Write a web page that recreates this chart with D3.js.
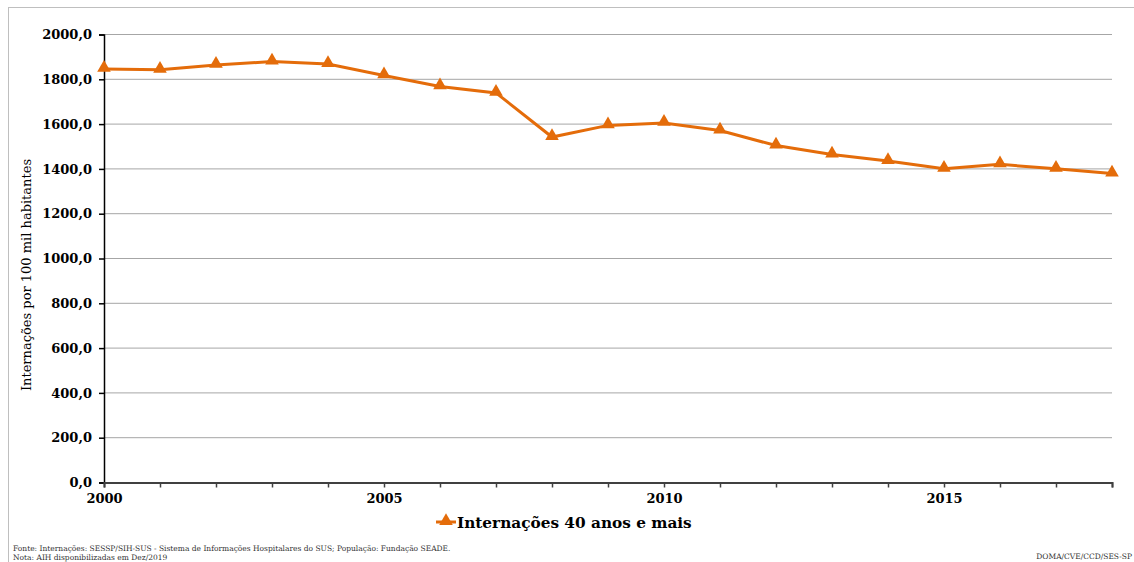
<!DOCTYPE html>
<html>
<head>
<meta charset="utf-8">
<script src="https://cdn.jsdelivr.net/npm/d3@7"></script>
<style>
  body { margin: 0; background: #fff; }
  svg { font-family: "DejaVu Serif", "Liberation Serif", serif; }
</style>
</head>
<body>
<div id="chart"></div>
<script>
// Data
const years = [2000, 2001, 2002, 2003, 2004, 2005, 2006, 2007, 2008, 2009,
  2010, 2011, 2012, 2013, 2014, 2015, 2016, 2017, 2018];
const rates = [1844, 1840, 1862, 1877, 1866, 1815, 1766, 1737, 1540, 1592,
  1603, 1569, 1502, 1462, 1433, 1398, 1418, 1398, 1377];
const yTicks = [0, 200, 400, 600, 800, 1000, 1200, 1400, 1600, 1800, 2000];
const xLabelYears = [2000, 2005, 2010, 2015];
const seriesName = "Internações 40 anos e mais";

const width = 1134;
const height = 562;
const margin = {top: 34, right: 22, bottom: 80, left: 104};
const orange = "#e46c0a";

const svg = d3.select("#chart")
  .append("svg")
  .attr("width", width)
  .attr("height", height);

// outer frame
svg.append("rect")
  .attr("x", 8.5).attr("y", 7.5)
  .attr("width", width - 8).attr("height", height - 4)
  .attr("fill", "none")
  .attr("stroke", "#bfbfbf");

const x = d3.scaleLinear()
  .domain([2000, 2018])
  .range([margin.left, width - margin.right]);

const y = d3.scaleLinear()
  .domain([0, 2000])
  .range([height - margin.bottom, margin.top]);

// gridlines
svg.append("g")
  .selectAll("line")
  .data(yTicks.filter(d => d > 0))
  .enter()
  .append("line")
  .attr("x1", x(2000)).attr("x2", x(2018))
  .attr("y1", d => y(d) + 0.5).attr("y2", d => y(d) + 0.5)
  .attr("stroke", "#a6a6a6")
  .attr("stroke-width", 1);

// Y axis
const yAxis = svg.append("g")
  .attr("transform", `translate(${x(2000)},0.5)`)
  .call(d3.axisLeft(y).tickValues(yTicks).tickSize(5).tickPadding(7)
    .tickFormat(d => d3.format(".1f")(d).replace(".", ",")));
yAxis.select(".domain").attr("stroke", "#000").attr("stroke-width", 1.5);
yAxis.selectAll(".tick line").attr("stroke", "#000").attr("stroke-width", 1.5);
yAxis.selectAll("text")
  .attr("font-size", 13).attr("font-weight", "bold")
  .attr("fill", "#000")
  .attr("font-family", "DejaVu Serif");

// X axis
const xAxis = svg.append("g")
  .attr("transform", `translate(0,${y(0) + 0.5})`)
  .call(d3.axisBottom(x).tickValues(years).tickSize(5).tickPadding(6)
    .tickFormat(d => xLabelYears.includes(d) ? d : ""));
xAxis.select(".domain").attr("stroke", "#404040").attr("stroke-width", 2);
xAxis.selectAll(".tick line").attr("stroke", "#404040").attr("stroke-width", 1.5);
xAxis.selectAll("text")
  .attr("font-size", 13).attr("font-weight", "bold")
  .attr("fill", "#000")
  .attr("font-family", "DejaVu Serif");

// Y title
svg.append("text")
  .attr("transform", "translate(31,275) rotate(-90)")
  .attr("text-anchor", "middle")
  .attr("font-size", 13)
  .text("Internações por 100 mil habitantes");

// Line
const line = d3.line()
  .x((d, i) => x(years[i]))
  .y(d => y(d));

svg.append("path")
  .datum(rates)
  .attr("d", line)
  .attr("fill", "none")
  .attr("stroke", orange)
  .attr("stroke-width", 3);

const tri = d3.symbol().type(d3.symbolTriangle).size(80);
svg.append("g")
  .selectAll("path")
  .data(rates)
  .enter()
  .append("path")
  .attr("d", tri)
  .attr("transform", (d, i) => `translate(${x(years[i])},${y(d) - 1})`)
  .attr("fill", orange);

// Legend
const lg = svg.append("g").attr("transform", "translate(436,522)");
lg.append("line")
  .attr("x1", 0).attr("x2", 20).attr("y1", 0).attr("y2", 0)
  .attr("stroke", orange).attr("stroke-width", 3);
lg.append("path")
  .attr("d", tri)
  .attr("transform", "translate(10,-1)")
  .attr("fill", orange);
lg.append("text")
  .attr("x", 21).attr("y", 6)
  .attr("font-size", 15.3).attr("font-weight", "bold")
  .text(seriesName);

// Footnotes
svg.append("text")
  .attr("x", 13).attr("y", 551)
  .attr("font-size", 7.5)
  .attr("fill", "#333")
  .text("Fonte: Internações:  SESSP/SIH-SUS  - Sistema de Informações Hospitalares do SUS; População: Fundação SEADE.");
svg.append("text")
  .attr("x", 13).attr("y", 560)
  .attr("font-size", 7.5)
  .attr("fill", "#333")
  .text("Nota: AIH disponibilizadas em Dez/2019");
svg.append("text")
  .attr("x", 1132).attr("y", 559)
  .attr("text-anchor", "end")
  .attr("font-size", 7.5)
  .attr("fill", "#333")
  .text("DOMA/CVE/CCD/SES-SP");
</script>
</body>
</html>
